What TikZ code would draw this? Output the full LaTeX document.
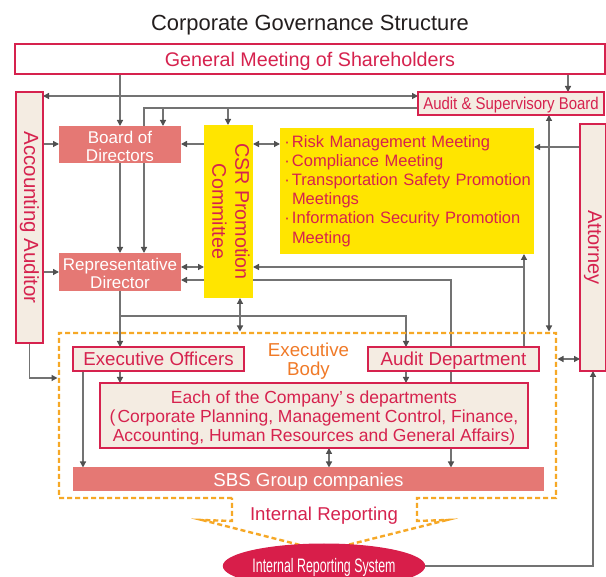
\documentclass[tikz,border=0pt]{standalone}
\usepackage{fontspec}
\setmainfont{Liberation Sans}
\usetikzlibrary{arrows.meta,shapes.geometric}

\definecolor{crimson}{RGB}{214,34,78}
\definecolor{salmon}{RGB}{229,120,116}
\definecolor{beige}{RGB}{244,236,226}
\definecolor{csryellow}{RGB}{255,229,0}
\definecolor{dashorange}{RGB}{246,168,38}
\definecolor{bodyorange}{RGB}{240,122,40}
\definecolor{linegray}{RGB}{115,115,115}
\definecolor{tipgray}{RGB}{80,80,80}
\definecolor{titleink}{RGB}{35,30,30}
\definecolor{irsred}{RGB}{216,30,74}

\newcommand{\fsize}[2]{\fontsize{#1pt}{#2pt}\selectfont}

\pgfdeclarelayer{background}
\pgfsetlayers{background,main}

\tikzset{
  outlinebox/.style={draw=crimson, line width=1.4pt, fill=beige, text=crimson,
    inner sep=0pt, outer sep=0pt, align=center},
  solidbox/.style={fill=salmon, text=white, inner sep=0pt, outer sep=0pt, align=center},
  yellowbox/.style={fill=csryellow, text=crimson, inner sep=0pt, outer sep=0pt},
  capline/.style={text height=#1, text depth=0pt},
  conn/.style={draw=linegray, line width=1.3pt},
  arr/.style={conn, -{Triangle[length=6pt,width=6pt,color=tipgray]}},
  darr/.style={conn, {Triangle[length=6pt,width=6pt,color=tipgray]}-{Triangle[length=6pt,width=6pt,color=tipgray]}},
  dashbody/.style={draw=dashorange, line width=2.4pt, dash pattern=on 5pt off 3pt},
}

\begin{document}
\begin{tikzpicture}[x=1pt,y=-1pt]
\useasboundingbox (0,0) rectangle (606,577);

% ---- title and top row ----
\node[text=titleink, anchor=base, inner sep=0pt, font=\fsize{21.9}{24}] (title) at (310,31)
  {Corporate Governance Structure};
\node[outlinebox, fill=white, minimum width=590pt, minimum height=30pt,
      font=\fsize{19.7}{22}, capline=14.1pt] (gm) at (310,59)
  {General Meeting of Shareholders};
\node[outlinebox, minimum width=186pt, minimum height=23pt,
      font=\fsize{17}{18}, capline=12.2pt] (asb) at (511,103.5)
  {\scalebox{0.88}[1]{Audit \& Supervisory Board}};

% ---- side boxes ----
\node[outlinebox, minimum width=27pt, minimum height=251pt, font=\fsize{20.5}{22}] (acc) at (29.5,217.5)
  {\rotatebox{-90}{Accounting Auditor}};
\node[outlinebox, minimum width=26pt, minimum height=247pt, font=\fsize{20}{22}] (att) at (593,247.5)
  {\rotatebox{-90}{Attorney}};

% ---- board level ----
\node[solidbox, minimum width=122pt, minimum height=37pt, font=\fsize{17}{18}] (board) at (120,144.5) {};
\node[text=white, align=center, inner sep=0pt, font=\fsize{17}{18}] (boardtext) at (120,146)
  {Board of\\Directors};
\node[solidbox, minimum width=122pt, minimum height=38pt] (rep) at (120,272) {};
\node[text=white, align=center, inner sep=0pt, font=\fsize{17}{18}] (reptext) at (120,273.5)
  {Representative\\Director};
\node[yellowbox, minimum width=49pt, minimum height=173pt, font=\fsize{19.7}{23}] (csr) at (228.5,211.5)
  {\rotatebox{-90}{\begin{tabular}{@{}c@{}}CSR Promotion\\Committee\end{tabular}}};
\node[yellowbox, minimum width=254pt, minimum height=126pt,
      text width=250pt, align=left, font=\fsize{16.5}{19.1}] (risk) at (407,191)
  {\makebox[10pt][c]{·}Risk Management Meeting\\
   \makebox[10pt][c]{·}Compliance Meeting\\
   \makebox[10pt][c]{·}Transportation Safety Promotion\\
   \hspace*{10pt}Meetings\\
   \makebox[10pt][c]{·}Information Security Promotion\\
   \hspace*{10pt}Meeting};

% ---- executive body ----
\node[minimum width=497pt, minimum height=165pt, inner sep=0pt, outer sep=0pt] (execbody) at (307.5,415.5) {};
\node[text=bodyorange, align=center, inner sep=0pt, font=\fsize{18.7}{19}] (bodylabel) at (308.5,361)
  {Executive\\Body};
\node[outlinebox, minimum width=171pt, minimum height=24pt,
      font=\fsize{18.7}{19}, capline=13.4pt] (eo) at (158.5,359)
  {Executive Officers};
\node[outlinebox, minimum width=171pt, minimum height=24pt,
      font=\fsize{18.7}{19}, capline=13.4pt] (ad) at (453.5,359)
  {Audit Department};
\node[outlinebox, minimum width=428pt, minimum height=65pt] (dept) at (314,415.5) {};
\node[text=crimson, align=center, inner sep=0pt, font=\fsize{17.5}{19.3}] (depttext) at (314,418)
  {Each of the Company’\kern3pt s departments\\
   (\kern2pt Corporate Planning, Management Control, Finance,\\
   Accounting, Human Resources and General Affairs)};
\node[solidbox, minimum width=471pt, minimum height=24pt,
      font=\fsize{18.7}{19}, capline=13.4pt] (sbs) at (308.5,479.5)
  {SBS Group companies};

% outline of the executive body, ending in the reporting arrow
\draw[dashbody, line join=miter]
  (232,498) -- (execbody.south west) -- (execbody.north west)
  -- (execbody.north east) -- (execbody.south east) -- (417,498)
  -- (417,521) -- (447,520) -- (323.5,551) -- (202,520) -- (232,521) -- cycle;

\node[text=crimson, inner sep=0pt, font=\fsize{18.6}{19}, capline=13.3pt] (irlabel) at (324,513.5)
  {Internal Reporting};
\node[ellipse, fill=irsred, text=white, minimum width=178pt, minimum height=45pt,
      inner sep=0pt, outer sep=0pt, font=\fsize{19.5}{20}, capline=14pt] (irs) at (324,566)
  {\scalebox{0.635}[1]{Internal Reporting System}};

% ---- lanes used by the connectors ----
\coordinate (xAcc) at (29.5,0);
\coordinate (xEOs) at (83,0);
\coordinate (xL1) at (120,0);
\coordinate (xL2) at (144,0);
\coordinate (xL3) at (163,0);
\coordinate (xL4) at (228,0);
\coordinate (xCSR) at (240,0);
\coordinate (xDep) at (329,0);
\coordinate (xAD1) at (406,0);
\coordinate (xAD2) at (451,0);
\coordinate (xAD3) at (524,0);
\coordinate (xASB) at (549,0);
\coordinate (xGM) at (568,0);
\coordinate (xAtt) at (593,0);
\coordinate (y96) at (0,96);
\coordinate (y108) at (0,108);
\coordinate (y144) at (0,144);
\coordinate (y147) at (0,147);
\coordinate (y267) at (0,267);
\coordinate (y272) at (0,272);
\coordinate (y280) at (0,280);
\coordinate (y316) at (0,316);
\coordinate (y359) at (0,359);
\coordinate (y378) at (0,378);

\begin{pgfonlayer}{background}
\fill[white] (0,0) rectangle (606,577);

% shareholders
\draw[arr] (xL1 |- gm.south) -- (xL1 |- board.north);
\draw[arr] (xGM |- gm.south) -- (xGM |- asb.north);
% accounting auditor
\draw[darr] (acc.east |- y96) -- (asb.west |- y96);
\draw[arr] (acc.east |- y144) -- (board.west |- y144);
\draw[arr] (acc.east |- y272) -- (rep.west |- y272);
\draw[arr] (xAcc |- acc.south) |- ([xshift=-1.5pt]execbody.west |- y378);
% audit & supervisory board
\draw[arr] (asb.west |- y108) -| (xL2 |- rep.north);
\draw[arr] (xL3 |- y108) -- (xL3 |- board.north);
\draw[arr] (xL4 |- y108) -- (xL4 |- csr.north);
\draw[darr, shorten >=1.5pt] (xASB |- asb.south) -- (xASB |- execbody.north);
% board and representative director
\draw[arr] (xL1 |- board.south) -- (xL1 |- rep.north);
\draw[arr] (csr.west |- y144) -- (board.east |- y144);
\draw[darr] (csr.east |- y144) -- (risk.west |- y144);
\draw[darr] (rep.east |- y267) -- (csr.west |- y267);
\draw[arr] (xL1 |- rep.south) -- (xL1 |- eo.north);
\draw[arr] (xL1 |- y316) -| (xAD1 |- ad.north);
\draw[darr, shorten >=1.5pt] (xCSR |- csr.south) -- (xCSR |- execbody.north);
% audit department
\draw[arr] (xAD2 |- ad.north) |- (rep.east |- y280);
\draw[arr] (xAD3 |- ad.north) -- (xAD3 |- risk.south);
\draw[arr] (xAD3 |- y267) -- (csr.east |- y267);
\draw[arr] (xAD1 |- ad.south) -- (xAD1 |- dept.north);
\draw[arr] (xAD2 |- ad.south) -- (xAD2 |- sbs.north);
% executive officers and departments
\draw[arr] (xL1 |- eo.south) -- (xL1 |- dept.north);
\draw[arr] (xEOs |- eo.south) -- (xEOs |- sbs.north);
\draw[darr] (xDep |- dept.south) -- (xDep |- sbs.north);
% attorney
\draw[arr] (att.west |- y147) -- (risk.east |- y147);
\draw[darr, shorten <=1.5pt] (execbody.east |- y359) -- (att.west |- y359);
\draw[arr] (irs.east) -| (xAtt |- att.south);
\end{pgfonlayer}
\end{tikzpicture}
\end{document}
